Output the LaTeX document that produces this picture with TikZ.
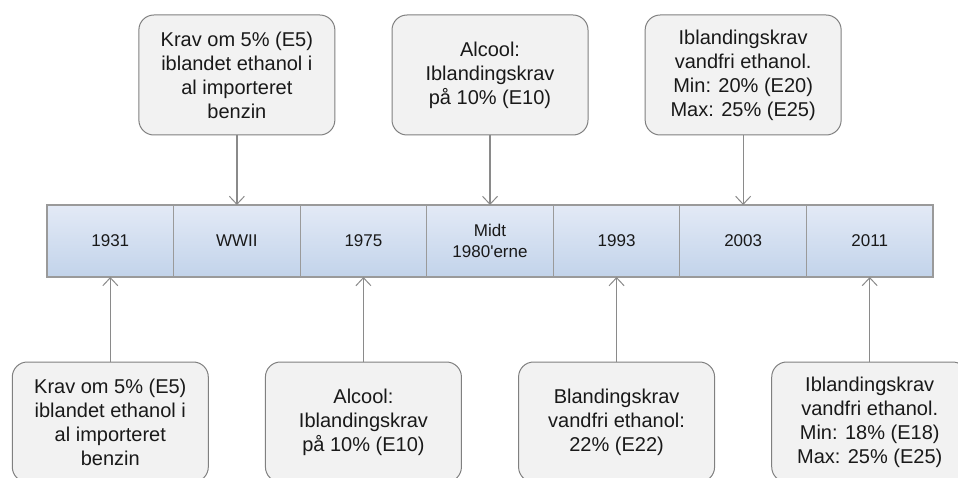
\documentclass[tikz,border=0pt]{standalone}
\usepackage{fontspec}
\setmainfont{Liberation Sans}
\usetikzlibrary{arrows.meta, positioning}

\definecolor{barTop}{HTML}{E3EAF6}
\definecolor{barBot}{HTML}{C2D3EA}
\definecolor{barLine}{HTML}{9A9A9A}
\definecolor{noteFill}{HTML}{F2F2F2}
\definecolor{noteLine}{HTML}{808080}
\definecolor{arrowGray}{HTML}{8A8A8A}

\begin{document}
\begin{tikzpicture}[
    x=1pt, y=-1pt,
    cell/.style={rectangle, draw=barLine, line width=1.2pt, top color=barTop, bottom color=barBot,
        minimum width=126.57pt, minimum height=72pt, outer sep=0pt, inner sep=2pt,
        align=center, font=\fontsize{17}{21}\selectfont, text=black!90},
    note/.style={rectangle, rounded corners=15pt, draw=noteLine, line width=1pt, fill=noteFill,
        minimum width=196pt, minimum height=120pt, outer sep=0pt, align=center,
        font=\fontsize{20}{24}\selectfont, text=black!90},
    arrow/.style={-{Straight Barb[length=8pt, width=15pt, line width=1pt]}, draw=arrowGray, line width=1.3pt}
]
\clip (0,0) rectangle (958,478);
% timeline
\node[cell] (c1) at (110.3,241) {1931};
\node[cell, right=0pt of c1] (c2) {WWII};
\node[cell, right=0pt of c2] (c3) {1975};
\node[cell, right=0pt of c3] (c4) {Midt\\1980\textquotesingle erne};
\node[cell, right=0pt of c4] (c5) {1993};
\node[cell, right=0pt of c5] (c6) {2003};
\node[cell, right=0pt of c6] (c7) {2011};
% notes above
\node[note, above=70pt of c2] (t1) {Krav om 5\% (E5)\\iblandet ethanol i\\al importeret\\benzin};
\node[note, above=70pt of c4] (t2) {Alcool:\\Iblandingskrav\\på 10\% (E10)};
\node[note, above=70pt of c6] (t3) {Iblandingskrav\\vandfri ethanol.\\Min: 20\% (E20)\\Max: 25\% (E25)};
% notes below
\node[note, below=85pt of c1] (b1) {Krav om 5\% (E5)\\iblandet ethanol i\\al importeret\\benzin};
\node[note, below=85pt of c3] (b2) {Alcool:\\Iblandingskrav\\på 10\% (E10)};
\node[note, below=85pt of c5] (b3) {Blandingskrav\\vandfri ethanol:\\22\% (E22)};
\node[note, below=85pt of c7] (b4) {Iblandingskrav\\vandfri ethanol.\\Min: 18\% (E18)\\Max: 25\% (E25)};
% arrows
\draw[arrow] (t1) -- (c2);
\draw[arrow] (t2) -- (c4);
\draw[arrow] (t3) -- (c6);
\draw[arrow] (b1) -- (c1);
\draw[arrow] (b2) -- (c3);
\draw[arrow] (b3) -- (c5);
\draw[arrow] (b4) -- (c7);
\end{tikzpicture}
\end{document}
